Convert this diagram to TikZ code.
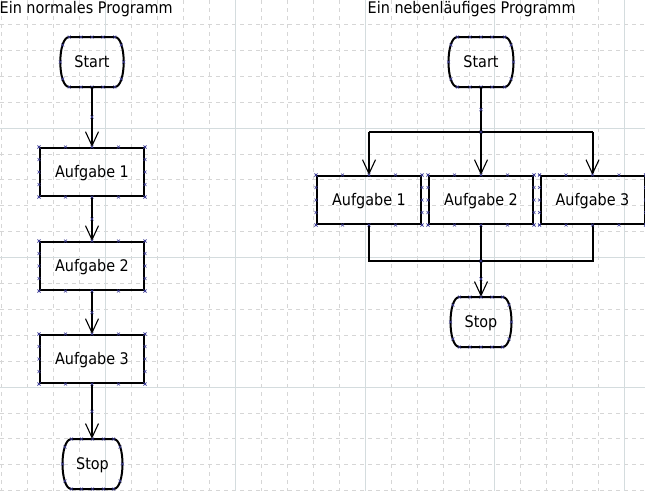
\documentclass[tikz,border=0pt]{standalone}
\usepackage{fontspec}
\setmainfont{DejaVu Sans}[FakeStretch=0.9]
\usetikzlibrary{arrows.meta,calc}
\definecolor{gridsolid}{RGB}{212,220,222}
\definecolor{griddash}{RGB}{214,214,214}
\definecolor{mkcol}{RGB}{60,60,150}
\newcommand\lblfont{\fontsize{16}{19}\selectfont}
\tikzset{
  gridd/.style={griddash, line width=0.8pt, dash pattern=on 4pt off 4pt},
  grids/.style={gridsolid, line width=0.9pt},
  taskbox/.style={draw=black, line width=2pt, minimum width=104pt, minimum height=48pt, inner sep=0pt, font=\lblfont, text height=11.7pt, text depth=0pt},
  termnode/.style={inner sep=0pt, minimum width=64pt, minimum height=50pt, font=\lblfont, text height=11.7pt, text depth=0pt},
  conn/.style={line width=2pt},
  arr/.style={conn, -{Straight Barb[length=14pt,width=13pt,line width=1.1pt]}},
  mkst/.style={mkcol, line width=0.55pt},
  titlenode/.style={anchor=base west, inner sep=0pt, font=\lblfont},
}
\newcommand\mk[1]{\draw[mkst] (#1) +(-1.5,-1.5) -- +(1.5,1.5) +(-1.5,1.5) -- +(1.5,-1.5);}
\newcommand\boxmarks[1]{%
  \foreach \t in {0,0.25,0.5,0.75,1}{%
    \mk{$(#1.north west)!\t!(#1.north east)$}
    \mk{$(#1.south west)!\t!(#1.south east)$}
    \mk{$(#1.north west)!\t!(#1.south west)$}
    \mk{$(#1.north east)!\t!(#1.south east)$}
  }}
% terminal outline: name, half width, half height
\newcommand\termline[3]{%
  \draw[conn, shift={(#1.center)}] (-#2+9,-#3) -- (#2-9,-#3)
    .. controls (#2+3,-#3) and (#2+3,#3) .. (#2-9,#3) -- (-#2+9,#3)
    .. controls (-#2-3,#3) and (-#2-3,-#3) .. cycle;
  \begin{scope}[shift={(#1.center)}]
    \foreach \u in {-#2+9,-11,0,11,#2-9}{%
      \draw[mkst] (\u,-#3) +(-1.5,-1.5) -- +(1.5,1.5) +(-1.5,1.5) -- +(1.5,-1.5);
      \draw[mkst] (\u,#3) +(-1.5,-1.5) -- +(1.5,1.5) +(-1.5,1.5) -- +(1.5,-1.5);}
    \foreach \s in {-1,1}{%
      \draw[mkst] (\s*#2,0) +(-1.5,-1.5) -- +(1.5,1.5) +(-1.5,1.5) -- +(1.5,-1.5);
      \draw[mkst] (\s*#2-\s*2.5,-17) +(-1.5,-1.5) -- +(1.5,1.5) +(-1.5,1.5) -- +(1.5,-1.5);
      \draw[mkst] (\s*#2-\s*2.5,17) +(-1.5,-1.5) -- +(1.5,1.5) +(-1.5,1.5) -- +(1.5,-1.5);}
  \end{scope}}
\begin{document}
\begin{tikzpicture}[x=1pt,y=-1pt]
\useasboundingbox (0,0) rectangle (645,491);
\fill[white] (0,0) rectangle (645,491);
% grid
\foreach \k in {-4,-3,-2,-1,1,2,3,4,6,7,8,9,11,12,13,14,16,17,18,19}
  \draw[gridd] (105.5+25.96*\k,0) -- (105.5+25.96*\k,491);
\foreach \k in {-4,-3,-2,-1,1,2,3,4,6,7,8,9,11,12,13,14}
  \draw[gridd] (0,128+25.9*\k) -- (645,128+25.9*\k);
\foreach \k in {0,5,10,15,20}
  \draw[grids] (105.5+25.96*\k,0) -- (105.5+25.96*\k,491);
\foreach \k in {0,5,10}
  \draw[grids] (0,128+25.9*\k) -- (645,128+25.9*\k);

% titles
\node[titlenode] (t1) at (-0.5,13.3) {Ein normales Programm};
\node[titlenode] (t2) at (367.5,13.3) {Ein nebenläufiges Programm};

% left program
\node[termnode] (startL) at (92,62) {Start};
\node[taskbox] (a1L) at (92,172) {Aufgabe 1};
\node[taskbox] (a2L) at (92,266) {Aufgabe 2};
\node[taskbox] (a3L) at (92,359) {Aufgabe 3};
\node[termnode, minimum width=60pt] (stopL) at (92.5,464) {Stop};
\termline{startL}{31.7}{25}
\termline{stopL}{30}{25}
\draw[arr] (startL.south) -- (a1L.north);
\draw[arr] (a1L.south) -- (a2L.north);
\draw[arr] (a2L.south) -- (a3L.north);
\draw[arr] (a3L.south) -- (stopL.north -| a3L.south);
\mk{$(startL.south)!0.5!(a1L.north)$}
\mk{$(a1L.south)!0.5!(a2L.north)$}
\mk{$(a2L.south)!0.5!(a3L.north)$}
\mk{$(a3L.south)!0.5!(stopL.north -| a3L.south)$}
\boxmarks{a1L}
\boxmarks{a2L}
\boxmarks{a3L}

% right program
\node[termnode] (startR) at (481,62) {Start};
\node[taskbox] (a1R) at (369,200) {Aufgabe 1};
\node[taskbox] (a2R) at (481,200) {Aufgabe 2};
\node[taskbox] (a3R) at (592.5,200) {Aufgabe 3};
\node[termnode, minimum width=60pt] (stopR) at (481,322) {Stop};
\termline{startR}{32.5}{25}
\termline{stopR}{30.5}{25}
\coordinate (split) at (481,132);
\coordinate (merge) at (481,261);
\draw[conn] (startR.south) -- (split);
\draw[conn] (a1R.north |- split) -- (a3R.north |- split);
\draw[arr] (a1R.north |- split) -- (a1R.north);
\draw[arr] (split) -- (a2R.north);
\draw[arr] (a3R.north |- split) -- (a3R.north);
\draw[conn] (a1R.south) -- (a1R.south |- merge) -- (a3R.south |- merge) -- (a3R.south);
\draw[conn] (a2R.south) -- (merge);
\draw[arr] (merge) -- (stopR.north);
\mk{split}
\mk{merge}
\mk{$(startR.south)!0.5!(split)$}
\mk{$(merge)!0.5!(stopR.north)$}
\boxmarks{a1R}
\boxmarks{a2R}
\boxmarks{a3R}
\end{tikzpicture}
\end{document}
